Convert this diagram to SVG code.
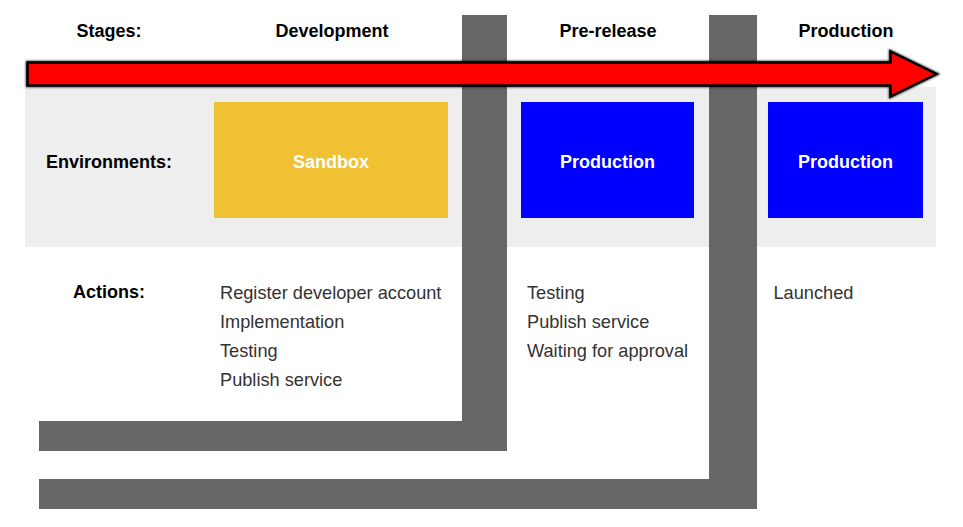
<svg xmlns="http://www.w3.org/2000/svg" width="963" height="527" viewBox="0 0 963 527">
  <style>
    .head { font-family: "Liberation Sans", Arial, sans-serif; font-size: 18px; font-weight: bold; fill: #000; text-anchor: middle; }
    .env { font-family: "Liberation Sans", Arial, sans-serif; font-size: 18px; font-weight: bold; fill: #fff; text-anchor: middle; }
    .act { font-family: "Liberation Sans", Arial, sans-serif; font-size: 18.2px; fill: #333; }
    .bar { fill: #666666; }
  </style>
  <defs>
    <filter id="soft" x="-5%" y="-50%" width="110%" height="200%">
      <feGaussianBlur stdDeviation="0.9"/>
    </filter>
  </defs>
  <rect width="963" height="527" fill="#ffffff"/>

  <!-- environment band -->
  <rect x="25" y="87" width="911" height="160" fill="#eeeeee"/>

  <!-- stage separators -->
  <g id="separators">
    <rect class="bar" x="462" y="15" width="45" height="436"/>
    <rect class="bar" x="39" y="421" width="468" height="30"/>
    <rect class="bar" x="709" y="15" width="48" height="494"/>
    <rect class="bar" x="39" y="479" width="718" height="30"/>
  </g>

  <!-- row labels -->
  <g id="labels">
    <text class="head" x="109" y="37">Stages:</text>
    <text class="head" x="109" y="168">Environments:</text>
    <text class="head" x="109" y="298">Actions:</text>
  </g>

  <!-- stage headers -->
  <g id="stage-headers">
    <text class="head" x="332" y="37">Development</text>
    <text class="head" x="608" y="37">Pre-release</text>
    <text class="head" x="846" y="37">Production</text>
  </g>

  <!-- timeline arrow with a soft dark edge -->
  <g id="connectors">
    <path d="M27.5 62.5 H890.5 V51.5 L936.5 74 L890.5 96.5 V85.5 H27.5 Z" fill="none" stroke="#000" stroke-width="3.5" stroke-linejoin="miter" filter="url(#soft)" opacity="0.8"/>
    <path d="M27.5 62.5 H890.5 V51.5 L936.5 74 L890.5 96.5 V85.5 H27.5 Z" fill="#ff0000" stroke="#000" stroke-width="2.5" stroke-linejoin="miter"/>
  </g>

  <g id="env-sandbox">
    <rect x="214" y="102" width="234" height="116" fill="#f0c132"/>
    <text class="env" x="331" y="168">Sandbox</text>
  </g>
  <g id="env-prerelease">
    <rect x="521" y="102" width="173" height="116" fill="#0000ff"/>
    <text class="env" x="607.5" y="168">Production</text>
  </g>
  <g id="env-production">
    <rect x="768" y="102" width="155" height="116" fill="#0000ff"/>
    <text class="env" x="845.5" y="168">Production</text>
  </g>

  <g id="actions-development">
    <text class="act" x="220" y="299">Register developer account</text>
    <text class="act" x="220" y="328">Implementation</text>
    <text class="act" x="220" y="357">Testing</text>
    <text class="act" x="220" y="386">Publish service</text>
  </g>
  <g id="actions-prerelease">
    <text class="act" x="527" y="299">Testing</text>
    <text class="act" x="527" y="328">Publish service</text>
    <text class="act" x="527" y="357">Waiting for approval</text>
  </g>
  <g id="actions-production">
    <text class="act" x="773.5" y="299">Launched</text>
  </g>
</svg>
